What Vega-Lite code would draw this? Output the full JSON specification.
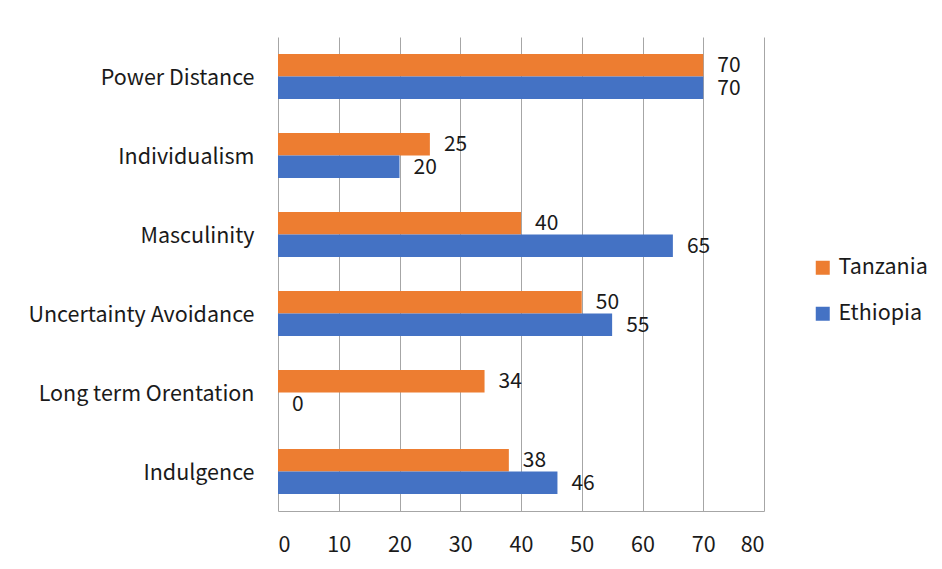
{
  "$schema": "https://vega.github.io/schema/vega-lite/v6.json",
  "width": 486,
  "height": 474,
  "autosize": {"type": "none"},
  "padding": {"left": 278, "top": 37, "right": 178, "bottom": 58},
  "background": "white",
  "config": {
    "font": "Noto Sans CJK SC",
    "view": {"stroke": null},
    "axis": {"labelFont": "Noto Sans CJK SC", "labelFontSize": 21.5, "labelColor": "#1a1a1a"},
    "legend": {"labelFont": "Noto Sans CJK SC", "labelFontSize": 21.5, "labelColor": "#1a1a1a"}
  },
  "data": {
    "values": [
      {"category": "Power Distance", "country": "Tanzania", "value": 70},
      {"category": "Power Distance", "country": "Ethiopia", "value": 70},
      {"category": "Individualism", "country": "Tanzania", "value": 25},
      {"category": "Individualism", "country": "Ethiopia", "value": 20},
      {"category": "Masculinity", "country": "Tanzania", "value": 40},
      {"category": "Masculinity", "country": "Ethiopia", "value": 65},
      {"category": "Uncertainty Avoidance", "country": "Tanzania", "value": 50},
      {"category": "Uncertainty Avoidance", "country": "Ethiopia", "value": 55},
      {"category": "Long term Orentation", "country": "Tanzania", "value": 34},
      {"category": "Long term Orentation", "country": "Ethiopia", "value": 0},
      {"category": "Indulgence", "country": "Tanzania", "value": 38},
      {"category": "Indulgence", "country": "Ethiopia", "value": 46}
    ]
  },
  "encoding": {
    "y": {
      "field": "category",
      "type": "nominal",
      "sort": null,
      "scale": {"paddingInner": 0.43, "paddingOuter": 0.215},
      "axis": {"title": null, "ticks": false, "labelPadding": 24, "labelLimit": 0, "labelOffset": 2, "domain": false, "grid": false}
    },
    "x": {
      "field": "value",
      "type": "quantitative",
      "scale": {"domain": [0, 80]},
      "axis": {
        "title": null,
        "values": [0, 10, 20, 30, 40, 50, 60, 70, 80],
        "grid": true,
        "gridColor": "#a6a6a6",
        "gridWidth": 1,
        "domain": true,
        "domainColor": "#a6a6a6",
        "ticks": false,
        "labelPadding": 23
      }
    },
    "yOffset": {
      "field": "country",
      "type": "nominal",
      "scale": {"domain": ["Tanzania", "Ethiopia"], "paddingInner": 0, "paddingOuter": 0}
    }
  },
  "layer": [
    {
      "mark": {"type": "bar", "cornerRadius": 0},
      "encoding": {
        "color": {
          "field": "country",
          "type": "nominal",
          "scale": {"domain": ["Tanzania", "Ethiopia"], "range": ["#ED7D31", "#4472C4"]},
          "legend": {
            "title": null,
            "orient": "none",
            "legendX": 534,
            "legendY": 220,
            "symbolType": "square",
            "symbolSize": 196,
            "symbolStrokeWidth": 0,
            "rowPadding": 23,
            "labelOffset": 5
          }
        }
      }
    },
    {
      "mark": {"type": "text", "align": "left", "baseline": "middle", "dx": 14, "dy": 1, "fontSize": 21, "color": "#1a1a1a", "font": "Noto Sans CJK SC"},
      "encoding": {
        "text": {"field": "value", "type": "quantitative"}
      }
    }
  ]
}
